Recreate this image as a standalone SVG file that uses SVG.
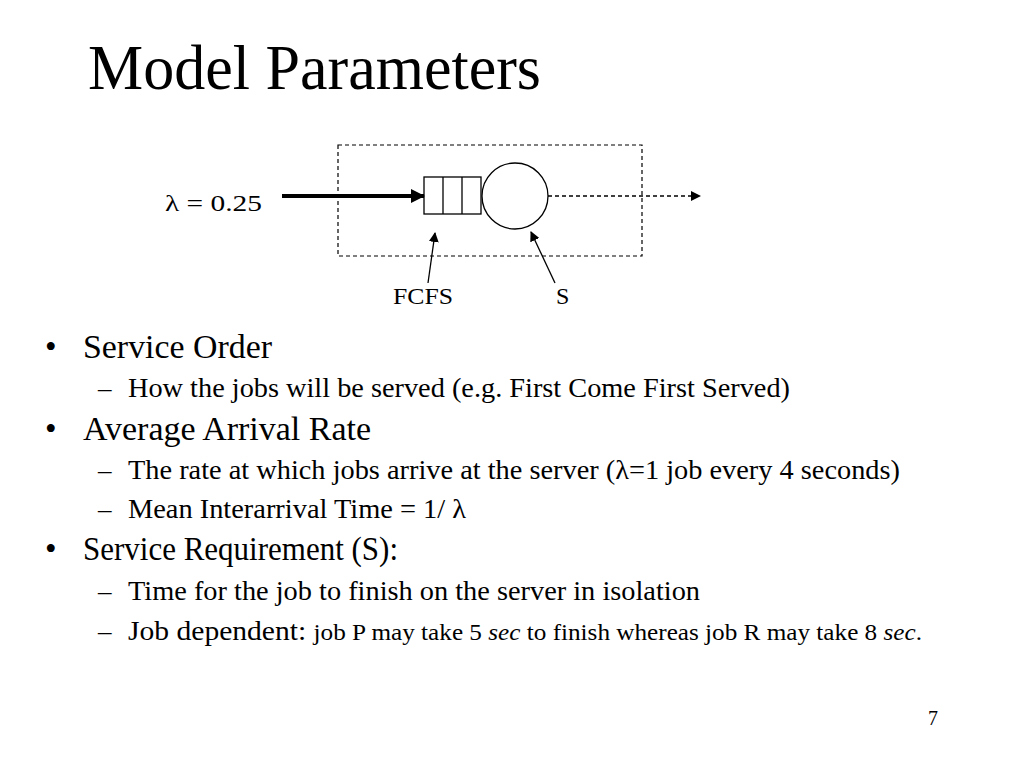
<svg xmlns="http://www.w3.org/2000/svg" width="1024" height="768" viewBox="0 0 1024 768">
<defs>
<style>
text{font-family:"Liberation Serif","Times New Roman",serif;fill:#000}
.title{font-size:63px}
.l1{font-size:33px}
.l2{font-size:27px}
.lbl{font-size:24px}
.thin{fill:none;stroke:#000;stroke-width:1.3}
</style>
<marker id="ahBig" markerWidth="14" markerHeight="14" refX="13" refY="7" orient="auto" markerUnits="userSpaceOnUse"><path d="M0,0 L14,7 L0,14 Z" fill="#000"/></marker>
<marker id="ahSmall" markerWidth="10" markerHeight="10" refX="9" refY="5" orient="auto" markerUnits="userSpaceOnUse"><path d="M0,0 L10,5 L0,10 Z" fill="#000"/></marker>
</defs>
<rect width="1024" height="768" fill="#fff"/>
<text class="title" x="88" y="89" textLength="453" lengthAdjust="spacingAndGlyphs">Model Parameters</text>

<g id="system-boundary"><rect x="338" y="145" width="304" height="111" fill="none" stroke="#000" stroke-width="1.2" stroke-dasharray="4,3"/></g>
<g id="queue">
<rect x="424" y="177" width="57" height="37" class="thin"/>
<line x1="443" y1="177" x2="443" y2="214" class="thin"/>
<line x1="462" y1="177" x2="462" y2="214" class="thin"/>
</g>
<g id="server"><circle cx="515" cy="196" r="33" class="thin"/></g>
<g id="arrival-label"><text class="lbl" x="165" y="211" textLength="97" lengthAdjust="spacingAndGlyphs">λ = 0.25</text></g>
<g id="fcfs-label"><text class="lbl" x="393" y="304" textLength="60" lengthAdjust="spacingAndGlyphs">FCFS</text></g>
<g id="s-label"><text class="lbl" x="556" y="304">S</text></g>
<g id="connectors">
<line x1="282" y1="196" x2="424" y2="196" stroke="#000" stroke-width="4" marker-end="url(#ahBig)"/>
<line x1="548" y1="196" x2="700" y2="196" stroke="#000" stroke-width="1.3" stroke-dasharray="4,3" marker-end="url(#ahSmall)"/>
<line x1="428" y1="283" x2="435" y2="233" stroke="#000" stroke-width="1.3" marker-end="url(#ahSmall)"/>
<line x1="555" y1="283" x2="531" y2="232" stroke="#000" stroke-width="1.3" marker-end="url(#ahSmall)"/>
</g>

<g id="bullets">
<text class="l1" x="45" y="358">•</text>
<text class="l1" x="83" y="358" textLength="189" lengthAdjust="spacingAndGlyphs">Service Order</text>
<text class="l2" x="98" y="397">–</text>
<text class="l2" x="128" y="397" textLength="662" lengthAdjust="spacingAndGlyphs">How the jobs will be served (e.g. First Come First Served)</text>
<text class="l1" x="45" y="440">•</text>
<text class="l1" x="83" y="440" textLength="288" lengthAdjust="spacingAndGlyphs">Average Arrival Rate</text>
<text class="l2" x="98" y="479">–</text>
<text class="l2" x="128" y="479" textLength="772" lengthAdjust="spacingAndGlyphs">The rate at which jobs arrive at the server (λ=1 job every 4 seconds)</text>
<text class="l2" x="98" y="518">–</text>
<text class="l2" x="128" y="518" textLength="338" lengthAdjust="spacingAndGlyphs">Mean Interarrival Time = 1/ λ</text>
<text class="l1" x="45" y="560">•</text>
<text class="l1" x="83" y="560" textLength="315" lengthAdjust="spacingAndGlyphs">Service Requirement (S):</text>
<text class="l2" x="98" y="600">–</text>
<text class="l2" x="128" y="600" textLength="572" lengthAdjust="spacingAndGlyphs">Time for the job to finish on the server in isolation</text>
<text class="l2" x="98" y="640">–</text>
<text class="l2" x="128" y="640" textLength="794" lengthAdjust="spacingAndGlyphs">Job dependent: <tspan font-size="23">job P may take 5 </tspan><tspan font-size="23" font-style="italic">sec</tspan><tspan font-size="23"> to finish whereas job R may take 8 </tspan><tspan font-size="23" font-style="italic">sec</tspan><tspan font-size="23">.</tspan></text>
</g>
<text x="928" y="725" font-size="20">7</text>
</svg>
